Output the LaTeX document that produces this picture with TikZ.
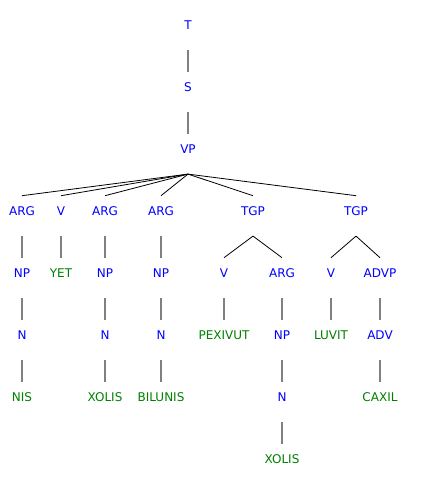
\documentclass[tikz,border=0pt]{standalone}
\usepackage{fontspec}
\setmainfont{DejaVu Sans}

\begin{document}
\begin{tikzpicture}[
    x=1pt, y=-1pt,
    font=\fontsize{12}{14}\selectfont,
    lbl/.style={
        inner sep=0pt,
        text height=19.5pt,
        text depth=20.5pt,
        anchor=base,
        yshift=-4.4pt
    },
    cat/.style={lbl, text=blue},
    word/.style={lbl, text=green!50!black},
    unary/.style={draw=gray, line width=1.5pt},
    branch/.style={draw=black, line width=0.8pt}
]
\useasboundingbox (0,0) rectangle (421,494);

% ============================================================
% SPINE
% ============================================================
\node[cat] (t) at (188,25) {T};
\node[cat] (s) at (188,87) {S};
\node[cat] (vp) at (188,149) {VP};

\draw[unary] (t.south) -- (s.north);
\draw[unary] (s.south) -- (vp.north);

% ============================================================
% DAUGHTERS OF VP
% ============================================================
\node[cat] (arga) at (22,211) {ARG};
\node[cat] (va) at (61,211) {V};
\node[cat] (argb) at (105,211) {ARG};
\node[cat] (argc) at (161,211) {ARG};
\node[cat] (tgpa) at (253,211) {TGP};
\node[cat] (tgpb) at (356,211) {TGP};

\foreach \d in {arga,va,argb,argc,tgpa,tgpb}
    \draw[branch] (vp.south) -- (\d.north);

% ============================================================
% ARGUMENTS AND VERB
% ============================================================
\node[cat] (npa) at (22,273) {NP};
\node[cat] (na) at (22,335) {N};
\node[word] (nis) at (22,397) {NIS};

\node[word] (yet) at (61,273) {YET};

\node[cat] (npb) at (105,273) {NP};
\node[cat] (nb) at (105,335) {N};
\node[word] (xolisa) at (105,397) {XOLIS};

\node[cat] (npc) at (161,273) {NP};
\node[cat] (nc) at (161,335) {N};
\node[word] (bilunis) at (161,397) {BILUNIS};

\draw[unary] (arga.south) -- (npa.north);
\draw[unary] (npa.south) -- (na.north);
\draw[unary] (na.south) -- (nis.north);
\draw[unary] (va.south) -- (yet.north);
\draw[unary] (argb.south) -- (npb.north);
\draw[unary] (npb.south) -- (nb.north);
\draw[unary] (nb.south) -- (xolisa.north);
\draw[unary] (argc.south) -- (npc.north);
\draw[unary] (npc.south) -- (nc.north);
\draw[unary] (nc.south) -- (bilunis.north);

% ============================================================
% FIRST TGP
% ============================================================
\node[cat] (vb) at (224,273) {V};
\node[cat] (argd) at (282,273) {ARG};
\node[word] (pexivut) at (224,335) {PEXIVUT};
\node[cat] (npd) at (282,335) {NP};
\node[cat] (nd) at (282,397) {N};
\node[word] (xolisb) at (282,459) {XOLIS};

\draw[branch] (tgpa.south) -- (vb.north);
\draw[branch] (tgpa.south) -- (argd.north);
\draw[unary] (vb.south) -- (pexivut.north);
\draw[unary] (argd.south) -- (npd.north);
\draw[unary] (npd.south) -- (nd.north);
\draw[unary] (nd.south) -- (xolisb.north);

% ============================================================
% SECOND TGP
% ============================================================
\node[cat] (vc) at (331,273) {V};
\node[cat] (advp) at (380,273) {ADVP};
\node[word] (luvit) at (331,335) {LUVIT};
\node[cat] (adv) at (380,335) {ADV};
\node[word] (caxil) at (380,397) {CAXIL};

\draw[branch] (tgpb.south) -- (vc.north);
\draw[branch] (tgpb.south) -- (advp.north);
\draw[unary] (vc.south) -- (luvit.north);
\draw[unary] (advp.south) -- (adv.north);
\draw[unary] (adv.south) -- (caxil.north);

\end{tikzpicture}
\end{document}
